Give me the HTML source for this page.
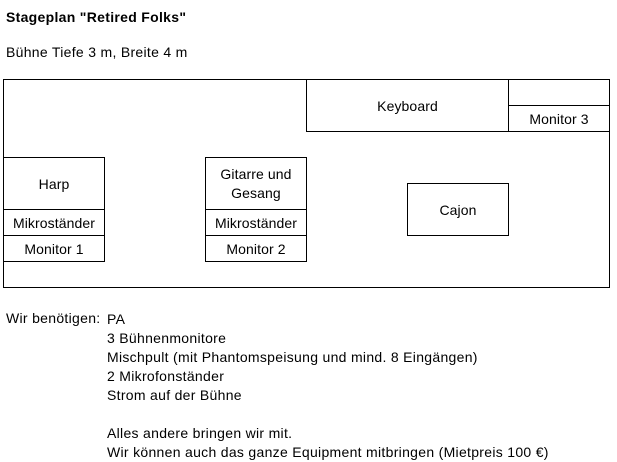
<!DOCTYPE html>
<html><head><style>
body{margin:0;width:617px;height:462px;background:#fff;font-family:"Liberation Sans",Arial,sans-serif;font-size:14px;color:#000;position:relative;overflow:hidden;letter-spacing:0.3px}
.t{position:absolute;white-space:nowrap;line-height:16px}
.b{position:absolute;border:1px solid #000;box-sizing:border-box;display:flex;align-items:center;justify-content:center;text-align:center;line-height:19px;padding-top:1px;letter-spacing:0.1px}
</style></head><body>
<div class="t" style="left:6px;top:9px;font-weight:bold">Stageplan "Retired Folks"</div>
<div class="t" style="left:6px;top:44px">Bühne Tiefe 3 m, Breite 4 m</div>
<div class="b" style="left:3px;top:79px;width:607px;height:209px"></div>
<div class="b" style="left:306px;top:79px;width:203px;height:53px">Keyboard</div>
<div class="b" style="left:508px;top:79px;width:102px;height:27px"></div>
<div class="b" style="left:508px;top:105px;width:102px;height:27px">Monitor 3</div>
<div class="b" style="left:3px;top:157px;width:102px;height:53px">Harp</div>
<div class="b" style="left:3px;top:209px;width:102px;height:27px">Mikroständer</div>
<div class="b" style="left:3px;top:235px;width:102px;height:27px">Monitor 1</div>
<div class="b" style="left:205px;top:157px;width:102px;height:53px">Gitarre und<br>Gesang</div>
<div class="b" style="left:205px;top:209px;width:102px;height:27px">Mikroständer</div>
<div class="b" style="left:205px;top:235px;width:102px;height:27px">Monitor 2</div>
<div class="b" style="left:407px;top:183px;width:102px;height:53px">Cajon</div>
<div class="t" style="left:6px;top:310px">Wir benötigen:</div>
<div class="t" style="left:107px;top:310px;line-height:19px">PA<br>3 Bühnenmonitore<br>Mischpult (mit Phantomspeisung und mind. 8 Eingängen)<br>2 Mikrofonständer<br>Strom auf der Bühne<br><br>Alles andere bringen wir mit.<br>Wir können auch das ganze Equipment mitbringen (Mietpreis 100 €)</div>
</body></html>
